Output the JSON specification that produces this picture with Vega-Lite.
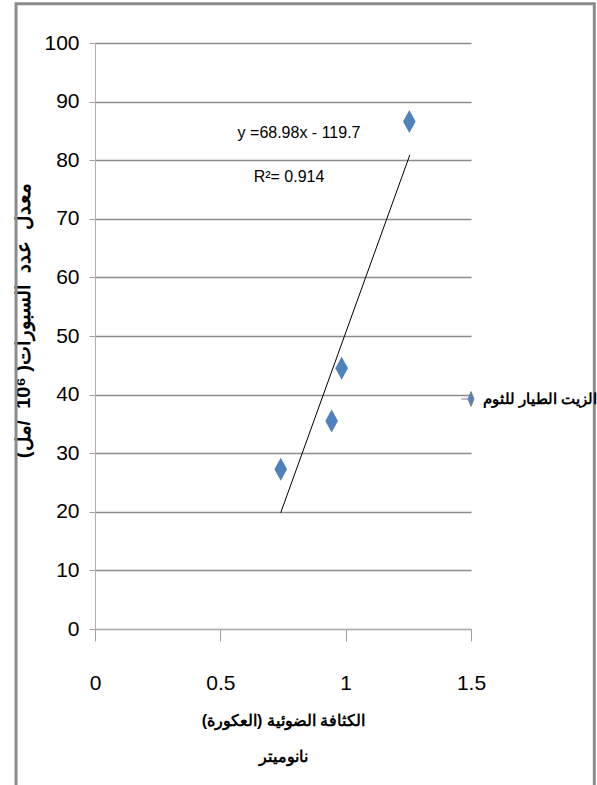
{
  "$schema": "https://vega.github.io/schema/vega-lite/v6.json",
  "width": 376,
  "height": 586,
  "autosize": {"type": "none"},
  "padding": {"left": 95, "top": 43, "right": 126, "bottom": 156},
  "background": "white",
  "config": {
    "view": {"stroke": null},
    "axis": {
      "labelFont": "Liberation Sans",
      "labelFontSize": 21,
      "labelColor": "black",
      "labelFlush": false,
      "domainColor": "#b0b0b0",
      "tickColor": "#a0a0a0",
      "titleColor": "black",
      "titleFont": "Liberation Sans",
      "titleFontWeight": "bold"
    }
  },
  "datasets": {
    "points": [
      {"x": 0.741, "y": 27.25, "series": "الزيت الطيار للثوم"},
      {"x": 0.944, "y": 35.5, "series": "الزيت الطيار للثوم"},
      {"x": 0.984, "y": 44.5, "series": "الزيت الطيار للثوم"},
      {"x": 1.254, "y": 86.6, "series": "الزيت الطيار للثوم"}
    ],
    "trend": [
      {"x": 0.741, "y": 19.85},
      {"x": 1.256, "y": 80.9}
    ],
    "labels": [
      {"x": 0.814, "y": 84.6, "label": "y =68.98x - 119.7"},
      {"x": 0.774, "y": 77.1, "label": "R²= 0.914"}
    ]
  },
  "layer": [
    {
      "data": {"values": [{}]},
      "mark": {"type": "rect", "fill": null, "stroke": "#8c8c8c", "strokeWidth": 3, "clip": false},
      "encoding": {
        "x": {"datum": -0.315, "type": "quantitative", "scale": {"domain": [0, 1.5]}},
        "x2": {"datum": 1.992},
        "y": {"datum": 106.7, "type": "quantitative", "scale": {"domain": [0, 100]}},
        "y2": {"datum": -40}
      }
    },
    {
      "data": {"name": "trend"},
      "mark": {"type": "line", "color": "black", "strokeWidth": 1},
      "encoding": {
        "x": {"field": "x", "type": "quantitative"},
        "y": {"field": "y", "type": "quantitative"}
      }
    },
    {
      "data": {"name": "points"},
      "mark": {"type": "point", "filled": true, "opacity": 1, "size": 529, "shape": "M0,-1L0.55,0L0,1L-0.55,0Z"},
      "encoding": {
        "x": {
          "field": "x", "type": "quantitative",
          "scale": {"domain": [0, 1.5], "nice": false, "zero": false},
          "axis": {
            "values": [0, 0.5, 1, 1.5],
            "format": "~g",
            "grid": false,
            "tickSize": 12,
            "labelPadding": 31,
            "title": ["الكثافة الضوئية (العكورة)", "نانوميتر"],
            "titleFontSize": 16,
            "titleLineHeight": 36,
            "titleBaseline": "top",
            "titleX": 188,
            "titleY": 83
          }
        },
        "y": {
          "field": "y", "type": "quantitative",
          "scale": {"domain": [0, 100], "nice": false},
          "axis": {
            "values": [0, 10, 20, 30, 40, 50, 60, 70, 80, 90, 100],
            "grid": true,
            "gridColor": "#8c8c8c",
            "gridWidth": 1.5,
            "tickSize": 6,
            "labelPadding": 10,
            "title": "\u202bمعدل\u00a0\u00a0عدد\u00a0\u00a0السبورات(\u00a010⁶\u00a0\u00a0/مل)\u202c",
            "titleFontSize": 20,
            "titleX": -62,
            "titleY": 277
          }
        },
        "color": {
          "field": "series", "type": "nominal",
          "scale": {"range": ["#4F81BD"]},
          "legend": {
            "orient": "none",
            "legendX": 368,
            "legendY": 348,
            "title": null,
            "padding": 0,
            "labelFont": "Liberation Sans",
            "labelFontSize": 15,
            "labelFontWeight": "bold",
            "labelColor": "black",
            "symbolSize": 220,
            "symbolType": "M-1.3,0H-0.4M0,-1L0.4,0L0,1L-0.4,0Z",
            "symbolStrokeColor": "#808080",
            "symbolStrokeWidth": 1,
            "symbolOpacity": 1
          }
        }
      }
    },
    {
      "data": {"name": "labels"},
      "mark": {"type": "text", "font": "Liberation Sans", "fontSize": 16, "color": "black", "align": "center", "baseline": "middle"},
      "encoding": {
        "x": {"field": "x", "type": "quantitative"},
        "y": {"field": "y", "type": "quantitative"},
        "text": {"field": "label"}
      }
    }
  ]
}
